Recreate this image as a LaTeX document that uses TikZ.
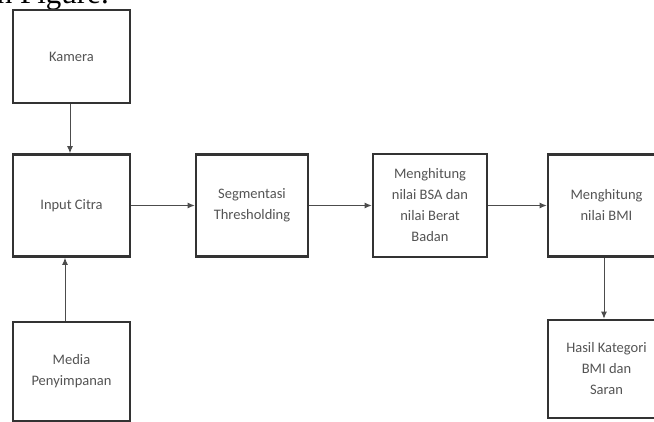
\documentclass[tikz,border=0pt]{standalone}
\usepackage{fontspec}
\setmainfont{Carlito}
\newfontfamily\captionserif{Liberation Serif}
\usetikzlibrary{positioning,arrows.meta}

\definecolor{drawColor}{gray}{0.20}
\definecolor{textColor}{gray}{0.33}
\definecolor{arrowColor}{gray}{0.30}

\tikzset{
  blockBox/.style={draw=drawColor,line width=2.6pt,fill=white,text=textColor,
    align=center,font=\fontsize{14.5}{21}\selectfont,inner sep=4pt},
  flowArrow/.style={draw=arrowColor,line width=1pt,
    -{Latex[length=7pt,width=6pt]}}
}

\begin{document}
\begin{tikzpicture}[x=1pt,y=1pt]
\path[use as bounding box,fill=white] (0,0) rectangle (654,422);
\begin{scope}
\path[clip] (0,0) rectangle (654,422);

% text cut off at the top edge
\node[anchor=base west,inner sep=0pt,font=\captionserif\fontsize{31}{31}\selectfont,text=black] (caption) at (-12,418) {in Figure.};

% blocks
\node[blockBox,minimum width=117,minimum height=93] (kamera) at (71.5,365.5) {Kamera};
\node[blockBox,minimum width=117,minimum height=102] (inputCitra) at (71.5,216.5) {Input Citra};
\node[blockBox,minimum width=112,minimum height=102] (segmentasi) at (252,216.5) {Segmentasi\\Thresholding};
\node[blockBox,minimum width=114,minimum height=103] (hitungBSA) at (430,216.5) {Menghitung\\nilai BSA dan\\nilai Berat\\Badan};
\node[blockBox,minimum width=117,minimum height=102] (hitungBMI) at (606.5,216.5) {Menghitung\\nilai BMI};
\node[blockBox,minimum width=117,minimum height=98] (hasil) at (606.5,53) {Hasil Kategori\\BMI dan\\Saran};
\node[blockBox,minimum width=117,minimum height=99] (media) at (71.5,50.5) {Media\\Penyimpanan};

% connectors
\draw[flowArrow] ([xshift=-1.5pt]kamera.south) -- ([xshift=-1.5pt]inputCitra.north);
\draw[flowArrow] ([xshift=-6.5pt]media.north) -- ([xshift=-6.5pt]inputCitra.south);
\draw[flowArrow] (inputCitra) -- (segmentasi);
\draw[flowArrow] (segmentasi) -- (hitungBSA);
\draw[flowArrow] (hitungBSA) -- (hitungBMI);
\draw[flowArrow] ([xshift=-2.5pt]hitungBMI.south) -- ([xshift=-2.5pt]hasil.north);
\end{scope}
\end{tikzpicture}
\end{document}
